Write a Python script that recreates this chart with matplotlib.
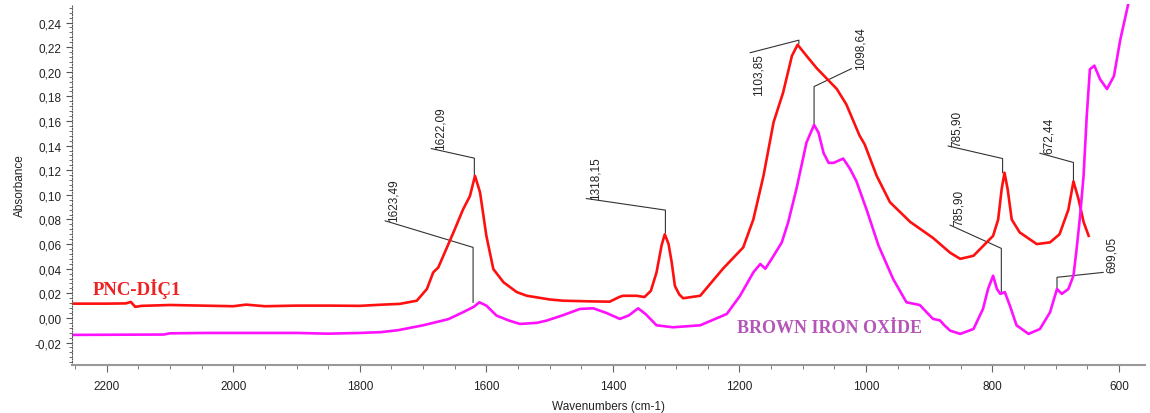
import numpy as np
import matplotlib
matplotlib.use("Agg")
import matplotlib.pyplot as plt
from matplotlib.ticker import MultipleLocator, FuncFormatter

plt.rcParams['font.family'] = ['Liberation Sans', 'DejaVu Sans']

# PNC-DİÇ1 (red)
red_x = [2255, 2200, 2170, 2162, 2155, 2145, 2100, 2050, 2000, 1980, 1950, 1900,
         1850, 1800, 1768, 1737, 1710, 1694, 1684, 1676, 1668, 1652, 1637, 1626,
         1618, 1610, 1600, 1589, 1573, 1552, 1536, 1500, 1479, 1440, 1405,
         1390, 1384, 1363, 1350, 1340, 1331, 1323, 1318, 1312, 1307, 1302, 1295,
         1289, 1262, 1226, 1194, 1178, 1162, 1146, 1131, 1117, 1108, 1094, 1078,
         1046, 1031, 1010, 1002, 983, 962, 930, 894, 867,
         851, 830, 799, 791, 785.5, 781, 776, 769.6, 757, 730, 709, 694, 680,
         672, 664, 656, 648]
red_y = [0.0116, 0.0116, 0.0118, 0.0130, 0.0090, 0.0098, 0.0105, 0.0100, 0.0095,
         0.0108, 0.0095, 0.0100, 0.0100, 0.0098, 0.0107, 0.0114, 0.014, 0.0235,
         0.037, 0.041, 0.0505, 0.0695, 0.088, 0.099, 0.1154, 0.102, 0.0667, 0.0397,
         0.029, 0.021, 0.018, 0.015, 0.014, 0.0135, 0.0132, 0.017, 0.018,
         0.018, 0.017, 0.022, 0.037, 0.059, 0.068, 0.060, 0.045, 0.026, 0.019,
         0.016, 0.018, 0.040, 0.0573, 0.080, 0.1154, 0.159, 0.183, 0.213, 0.222,
         0.213, 0.203, 0.186, 0.1735, 0.148, 0.141, 0.1154, 0.094, 0.078, 0.065,
         0.053, 0.048, 0.0505, 0.0667, 0.080, 0.1046, 0.118, 0.1046, 0.080, 0.0695,
         0.060, 0.0614, 0.068, 0.088, 0.111, 0.0965, 0.078, 0.0667]

# BROWN IRON OXIDE (magenta)
mag_x = [2255, 2110, 2100, 2040, 1900, 1850, 1800, 1768, 1740, 1700, 1660, 1637,
         1620, 1611, 1600, 1584, 1565, 1547, 1520, 1505, 1480, 1452, 1431, 1410,
         1389, 1375, 1360, 1348, 1331, 1305, 1262, 1220, 1199, 1178, 1167, 1159,
         1149, 1133, 1123, 1110, 1094, 1082, 1075, 1067, 1059, 1051, 1036, 1025,
         1015, 999, 980, 957, 936, 915, 894, 883, 876, 867, 851, 830, 815, 807,
         799, 793, 787.5, 780.5, 772.5, 762, 743, 725, 709, 698, 690.5, 680, 672,
         667, 661.5, 656, 651, 646, 639, 630, 619, 608, 598, 585]
mag_y = [-0.0138, -0.0135, -0.0125, -0.0122, -0.0122, -0.0128, -0.0122, -0.0116,
         -0.010, -0.006, -0.001, 0.0046, 0.009, 0.0127, 0.010, 0.0019, -0.002,
         -0.0049, -0.004, -0.0022, 0.002, 0.0073, 0.0078, 0.004, -0.0008, 0.002,
         0.0078, 0.003, -0.006, -0.0076, -0.006, 0.0032, 0.018, 0.037, 0.0438,
         0.040, 0.048, 0.0614, 0.0776, 0.1046, 0.1425, 0.1568, 0.1506, 0.134,
         0.126, 0.126, 0.1295, 0.121, 0.111, 0.088, 0.0586, 0.0316, 0.0127,
         0.0105, -0.0008, -0.002, -0.006, -0.0103, -0.013, -0.009, 0.0073, 0.0235,
         0.0343, 0.0235, 0.0195, 0.021, 0.010, -0.006, -0.013, -0.009, 0.0046,
         0.0235, 0.0195, 0.0235, 0.0343, 0.056, 0.083, 0.1154, 0.164, 0.202,
         0.205, 0.194, 0.186, 0.1965, 0.226, 0.256]

# peak labels: text, leader start (x, y), corner (x, y), peak y
peak_text = ["1623,49", "1622,09", "1318,15", "1103,85", "1098,64",
             "785,90", "785,90", "672,44", "699,05"]
lead_start = [(1760, 0.0789), (1687, 0.1376), (1442, 0.097), (1183, 0.2155),
              (1023, 0.2025), (870, 0.1397), (867, 0.0754), (725, 0.1338),
              (625, 0.037)]
lead_corner = [(1621, 0.0573), (1619, 0.1298), (1317, 0.0876), (1106, 0.2257),
               (1082, 0.188), (784, 0.1295), (786, 0.0565), (672, 0.1263),
               (698, 0.033)]
peak_y = [0.0127, 0.1154, 0.0695, 0.223, 0.157, 0.118, 0.021, 0.111, 0.0235]

fig = plt.figure(figsize=(11.5, 4.14), dpi=100)
ax = fig.add_axes([0.0626, 0.1167, 0.933, 0.871])

ax.plot(red_x, red_y, color='#ff1010', lw=1.9, solid_joinstyle='round')
ax.plot(mag_x, mag_y, color='#ff10ff', lw=1.9, solid_joinstyle='round')

for i, t in enumerate(peak_text):
    sx, sy = lead_start[i]
    cx, cy = lead_corner[i]
    ax.plot([sx, cx, cx], [sy, cy, peak_y[i]], color='#333333', lw=0.8, zorder=1)
    va = 'top' if t == "1103,85" else 'bottom'
    ax.annotate(t, xy=(sx, sy), xytext=(2, 0), textcoords='offset points',
                rotation=90, ha='left', va=va, fontsize=8.5, color='#222222')

ax.text(2222, 0.0243, "PNC-DİÇ1", color='#ee2222', fontsize=13.5, fontweight='bold',
        family=['Liberation Serif', 'DejaVu Serif'], va='center', ha='left')
ax.text(1204, -0.0077, "BROWN IRON OXİDE", color='#b455b8', fontsize=13,
        fontweight='bold', family=['Liberation Serif', 'DejaVu Serif'],
        va='center', ha='left')

ax.set_xlim(2255, 559)
ax.set_ylim(-0.038, 0.255)
ax.xaxis.set_major_locator(MultipleLocator(200))
ax.xaxis.set_minor_locator(MultipleLocator(50))
ax.yaxis.set_major_locator(MultipleLocator(0.02))
ax.yaxis.set_minor_locator(MultipleLocator(0.004))
ax.yaxis.set_major_formatter(FuncFormatter(lambda v, p: f"{v:.2f}".replace('.', ',').replace('-0,00', '0,00')))

for s in ['top', 'right']:
    ax.spines[s].set_visible(False)
ax.spines['bottom'].set_color('#999999')
ax.spines['bottom'].set_linewidth(1.5)
ax.spines['left'].set_color('#555555')
ax.spines['left'].set_linestyle((0, (1, 1.5)))
ax.tick_params(axis='x', which='major', length=5, color='#666666', labelsize=8.5,
               labelcolor='#222222', pad=6)
ax.tick_params(axis='x', which='minor', length=3, color='#666666')
ax.tick_params(axis='y', which='major', length=4, color='#555555', labelsize=8.5,
               labelcolor='#222222')
ax.tick_params(axis='y', which='minor', length=2, color='#555555')

ax.set_xlabel("Wavenumbers (cm-1)", fontsize=8.5, color='#222222', labelpad=6)
ax.set_ylabel("Absorbance", fontsize=8.5, color='#222222', labelpad=6)

fig.savefig("out.png", dpi=100)
